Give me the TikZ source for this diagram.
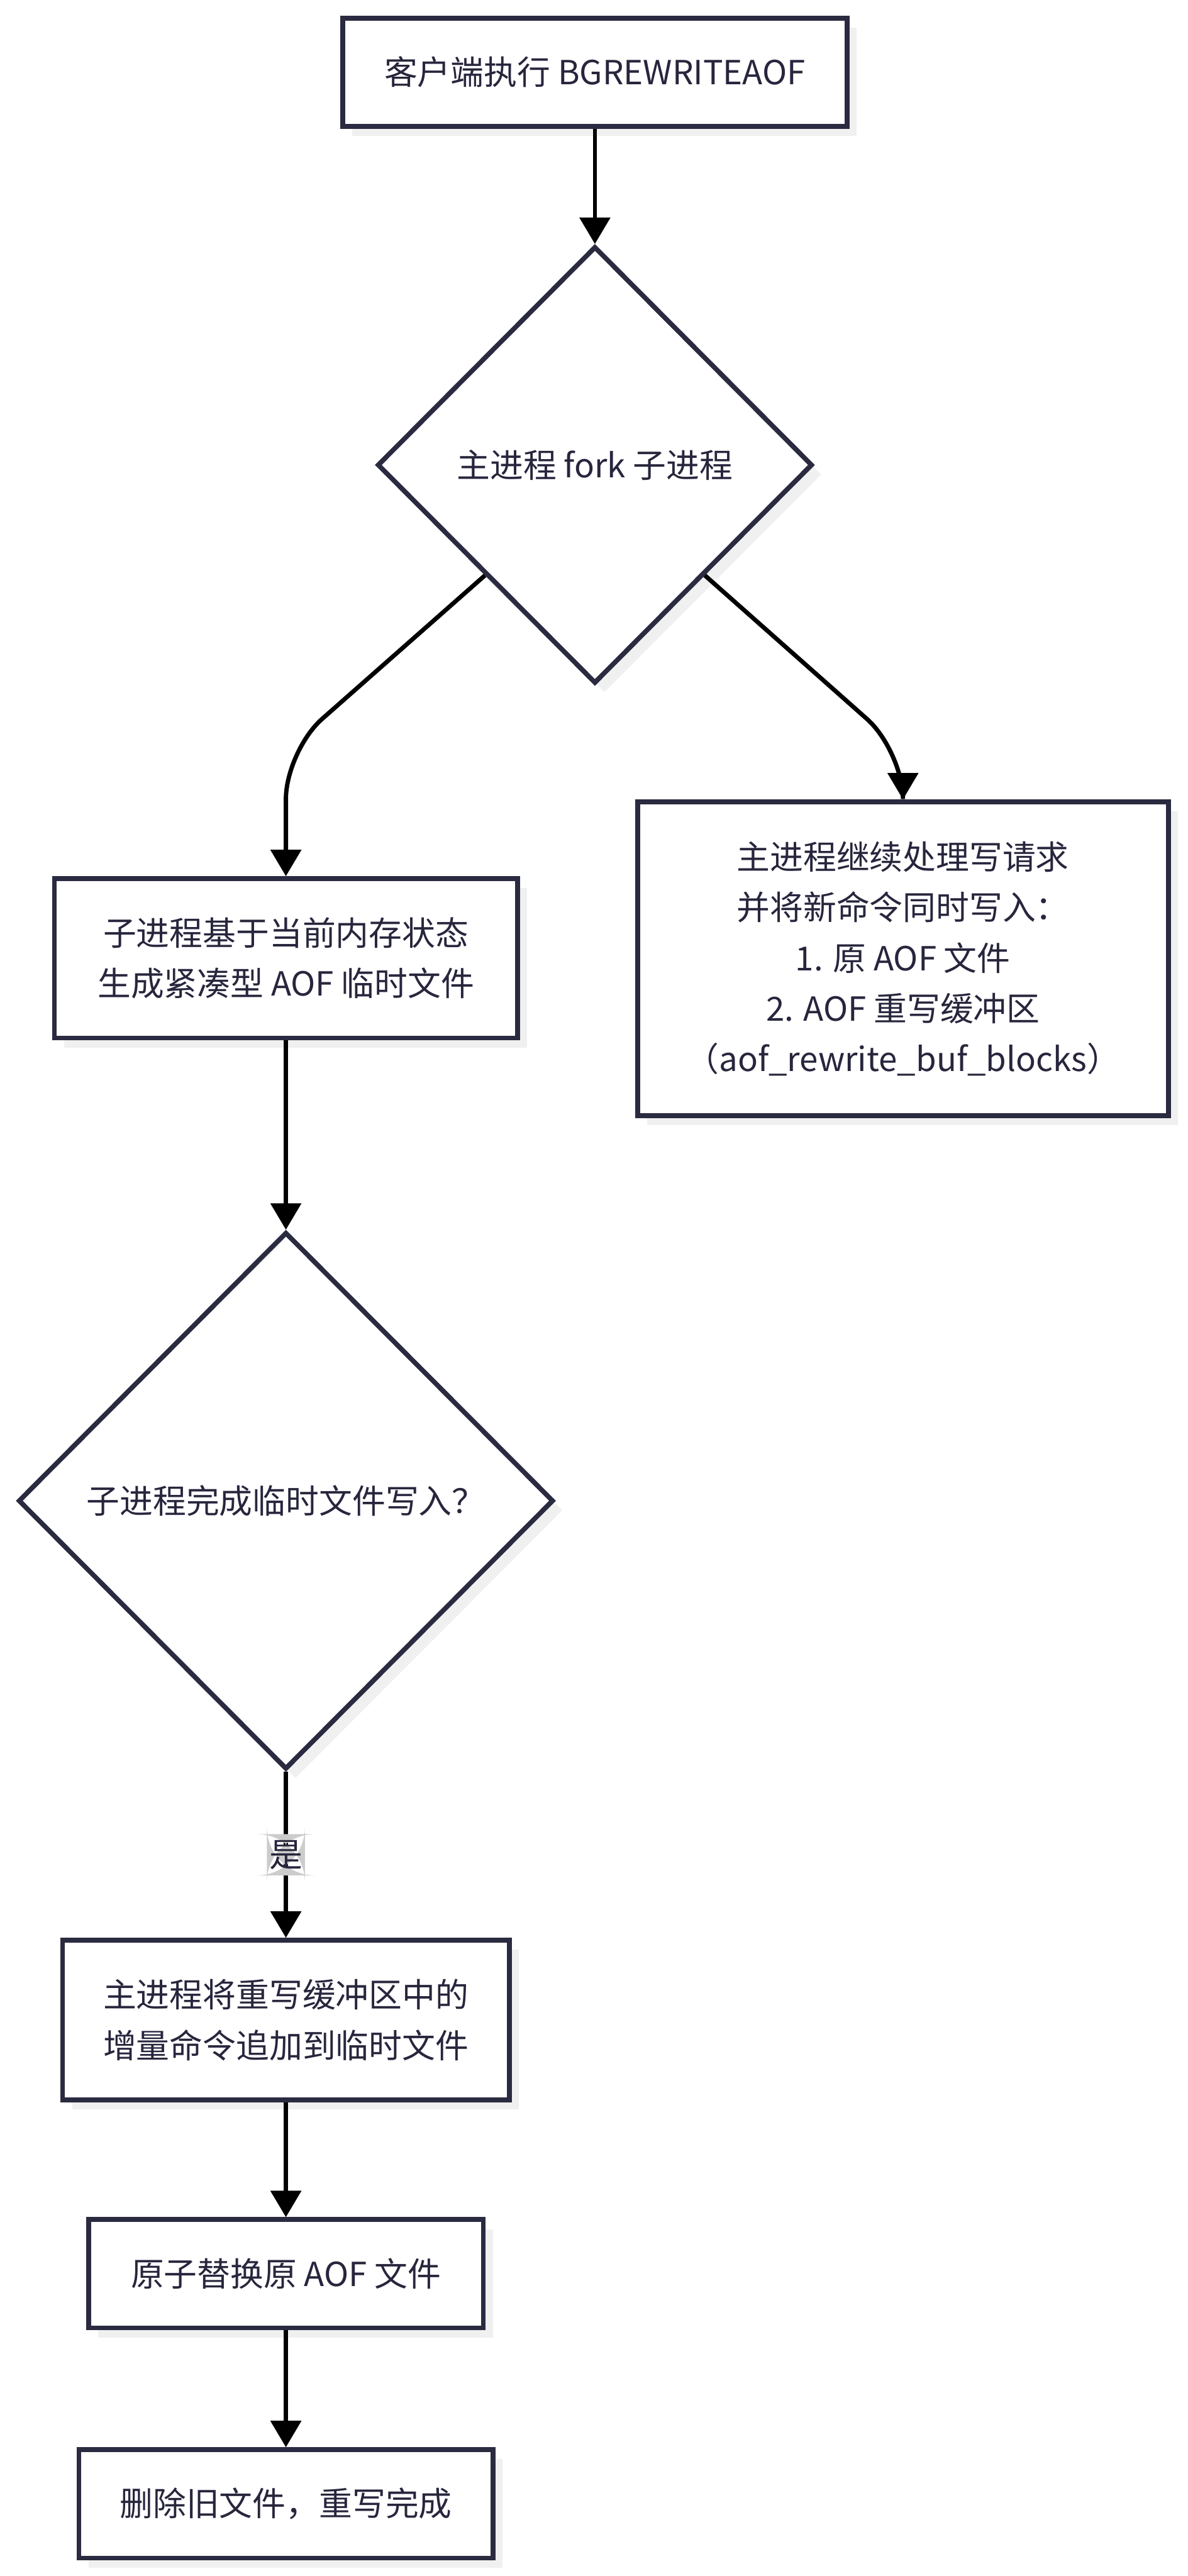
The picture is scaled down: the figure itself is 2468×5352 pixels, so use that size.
\documentclass[tikz,border=0pt]{standalone}
\usepackage{fontspec}
\setmainfont{Noto Sans CJK SC}
\usetikzlibrary{shapes.geometric,arrows.meta,shadows}
\definecolor{ink}{RGB}{39,38,61}
\definecolor{edgecol}{RGB}{42,42,64}
\definecolor{shade}{RGB}{240,240,240}
\definecolor{lblbg}{RGB}{204,204,204}
\begin{document}
\begin{tikzpicture}[x=0.2pt,y=-0.2pt,
  basefont/.style={font=\fontsize{13.8pt}{21pt}\selectfont},
  shadowed/.style={drop shadow={shadow xshift=4pt,shadow yshift=-4pt,fill=shade,opacity=1}},
  procbox/.style={rectangle, draw=edgecol, line width=2pt, fill=white, text=ink, align=center, basefont, shadowed, inner sep=2pt},
  decbox/.style={diamond, draw=edgecol, line width=2pt, fill=white, text=ink, align=center, basefont, shadowed, inner sep=1pt},
  conn/.style={draw=black, line width=1.8pt, -{Triangle[length=11pt,width=12.5pt]}, rounded corners=20pt},
  lbl/.style={fill=lblbg, text=ink, basefont, inner xsep=1pt, inner ysep=2.5pt}
]
\useasboundingbox (0,0) rectangle (2468,5352);

\node[procbox, minimum width=209.6pt, minimum height=45pt] (start) at (1236,150) {客户端执行 BGREWRITEAOF};
\node[decbox, minimum width=180.8pt, minimum height=181.6pt] (d1) at (1236,966) {主进程 fork 子进程};
\node[procbox, minimum width=192.4pt, minimum height=66.2pt] (child) at (594,1991) {子进程基于当前内存状态\\生成紧凑型 AOF 临时文件};
\node[procbox, minimum width=220.6pt, minimum height=130.4pt] (main) at (1876,1992) {主进程继续处理写请求\\并将新命令同时写入：\\1. 原 AOF 文件\\2. AOF 重写缓冲区\\（aof\_rewrite\_buf\_blocks）};
\node[decbox, minimum width=222.4pt, minimum height=223.2pt] (d2) at (594,3118) {子进程完成临时文件写入？};
\node[procbox, minimum width=185.6pt, minimum height=66.4pt] (append) at (594,4197) {主进程将重写缓冲区中的\\增量命令追加到临时文件};
\node[procbox, minimum width=164pt, minimum height=45pt] (swap) at (594,4724) {原子替换原 AOF 文件};
\node[procbox, minimum width=172pt, minimum height=45pt] (done) at (594,5202) {删除旧文件，重写完成};

\coordinate (bl) at (594,1560);
\coordinate (br) at (1876,1560);

\draw[conn] (start.south) -- (d1.north);
\draw[conn] (d1.south west) -- (bl) -- (child.north);
\draw[conn] (d1.south east) -- (br) -- (main.north);
\draw[conn] (child.south) -- (d2.north);
\draw[conn] (d2.south) -- node[lbl] (yes) {是} (append.north);
\draw[conn] (append.south) -- (swap.north);
\draw[conn] (swap.south) -- (done.north);
\end{tikzpicture}
\end{document}
